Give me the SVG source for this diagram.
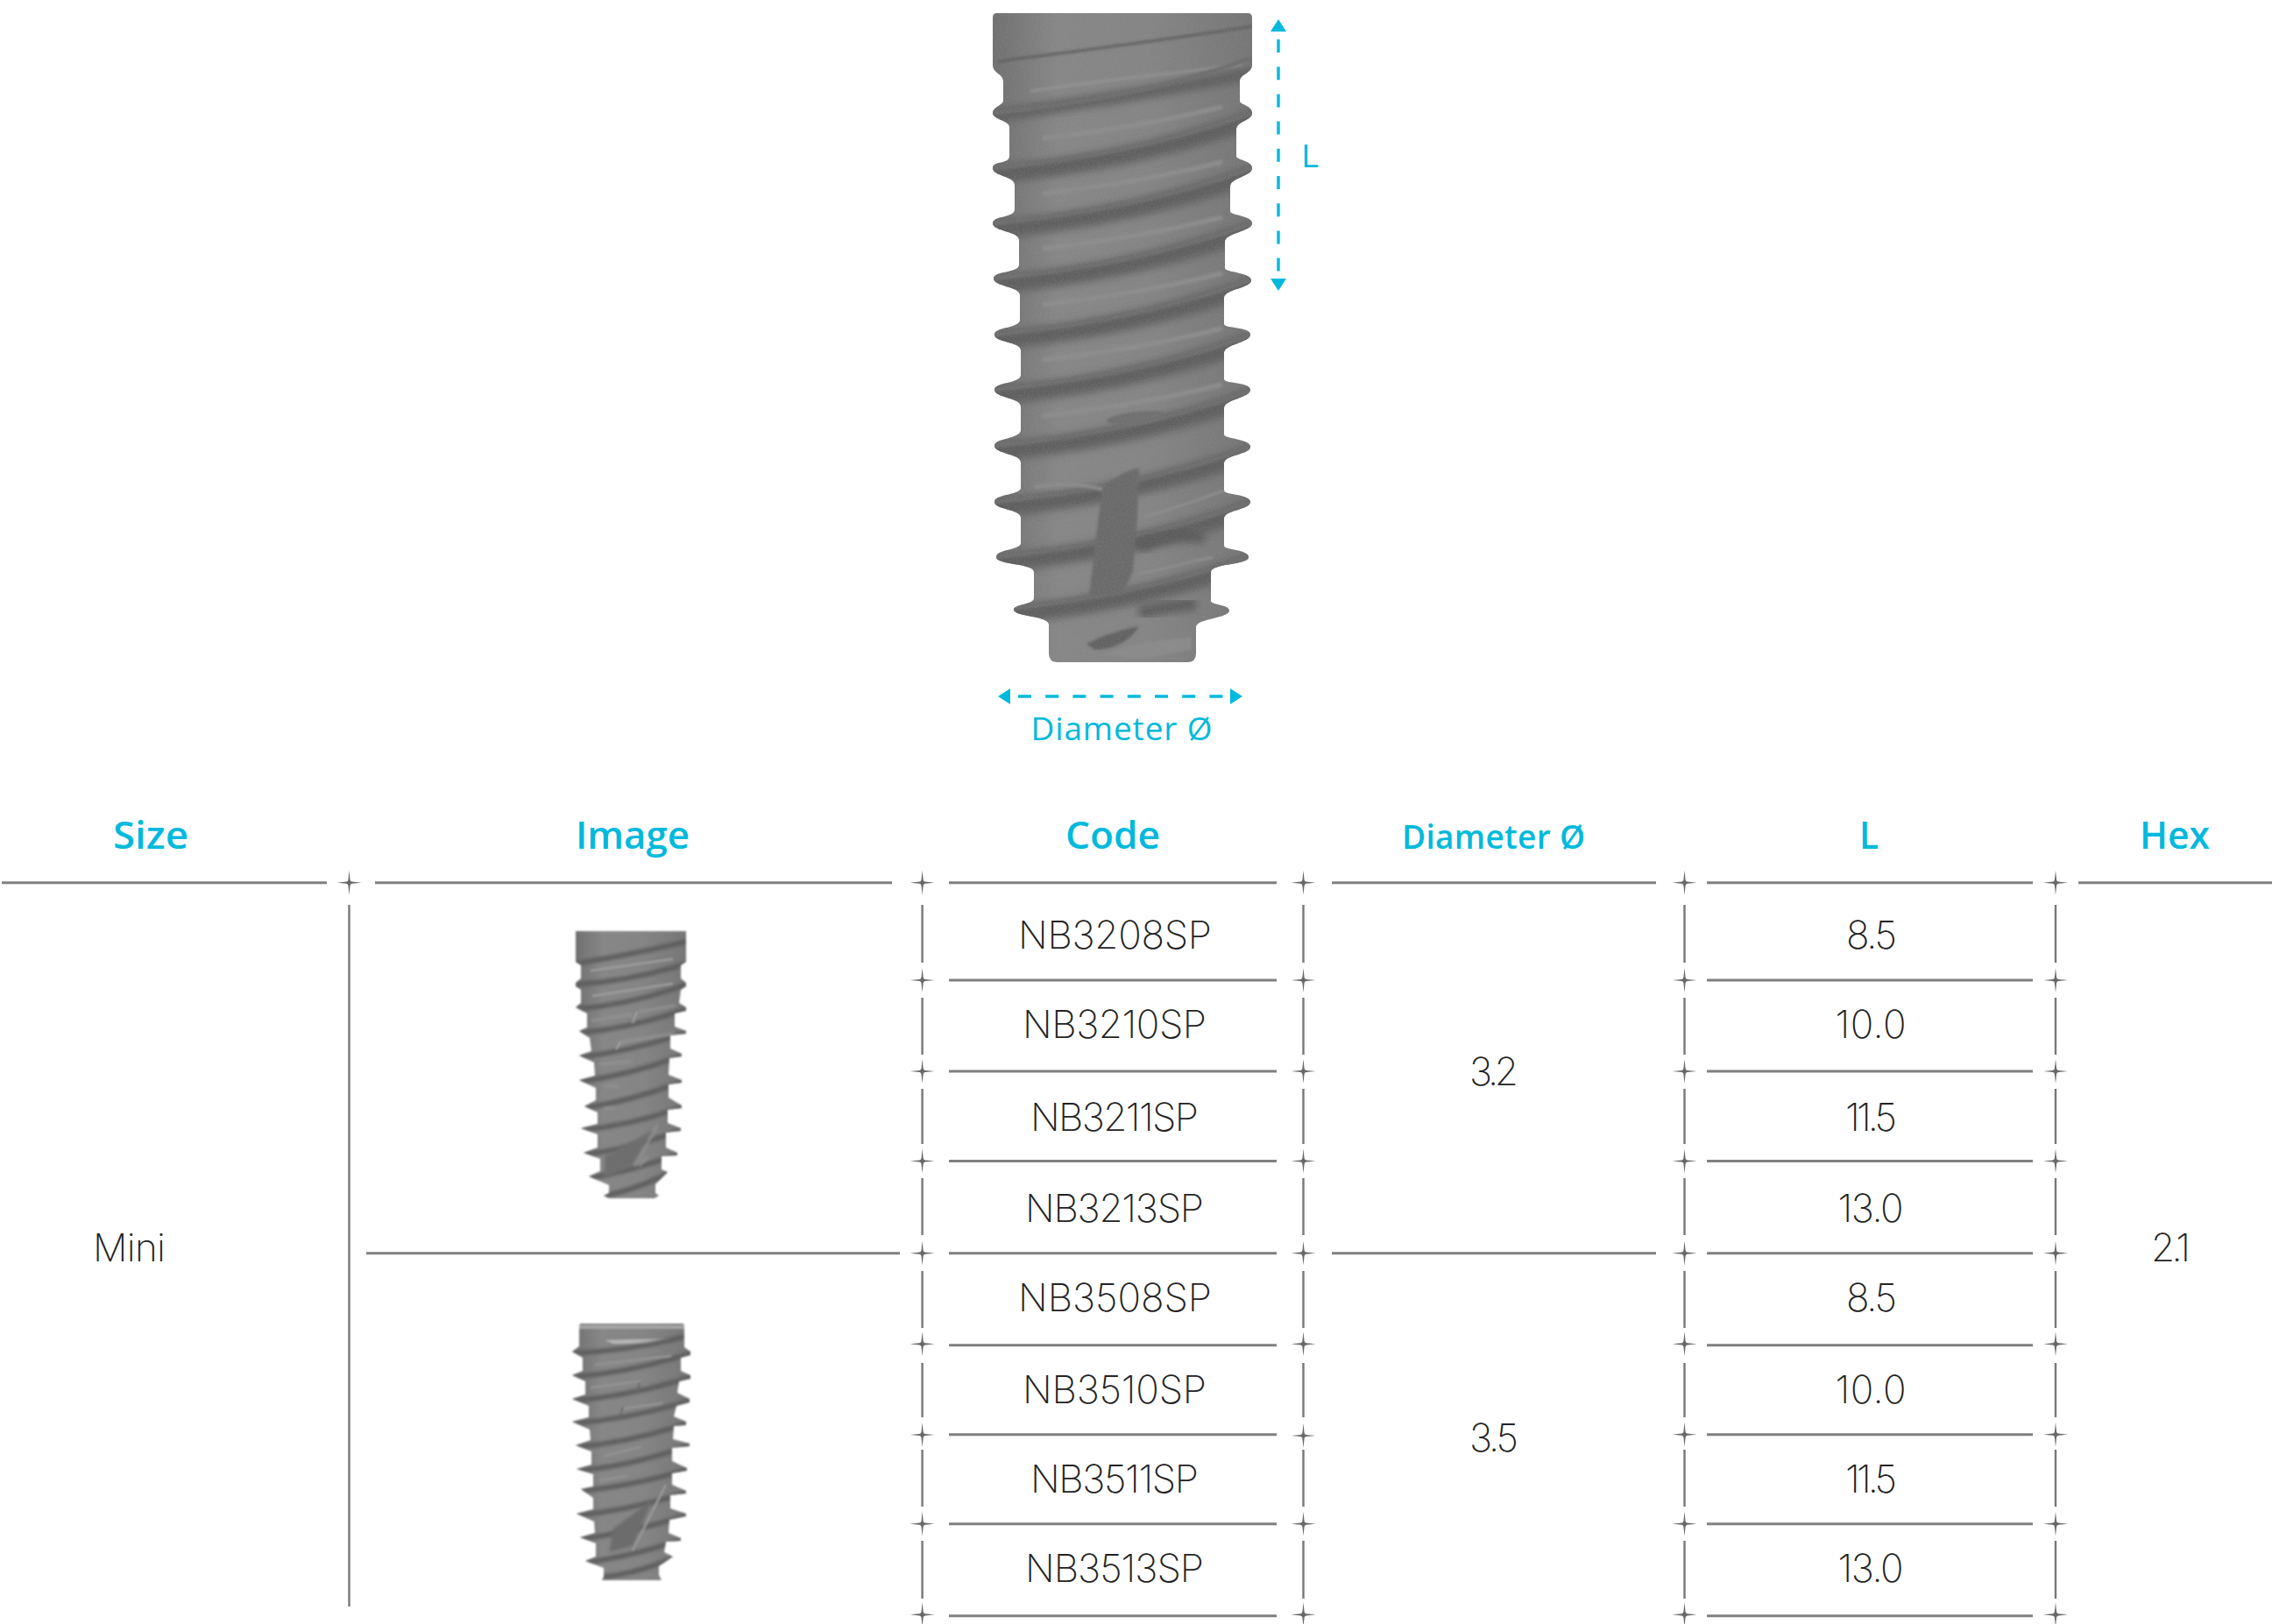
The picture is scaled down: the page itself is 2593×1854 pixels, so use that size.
<svg xmlns="http://www.w3.org/2000/svg" xmlns:xlink="http://www.w3.org/1999/xlink" width="2593" height="1854" viewBox="0 0 2593 1854">
<style>
.h{font-family:"Open Sans","Noto Sans",sans-serif;font-weight:550;fill:#00b9dd;text-anchor:middle}
.a{font-family:"Open Sans","Noto Sans",sans-serif;font-weight:400;fill:#00b9dd;text-anchor:middle}
.c{font-family:"Inter","Lato","Liberation Sans",sans-serif;font-weight:200;fill:#222;font-size:44px;text-anchor:middle}
.rl{stroke:#808080;stroke-width:3;fill:none}
.vl{stroke:#777;stroke-width:2.4;fill:none}
.ar{stroke:#00b9dd;stroke-width:3.4;fill:none;stroke-dasharray:15 16.2;stroke-dashoffset:22.2}
.st{fill:#696969}
.dk{fill:none;stroke:#5e5e5e;stroke-linecap:round}
.lt{fill:none;stroke:#929292;stroke-linecap:round}
</style>
<defs>
<path id="s" d="M0-14L1.1-3.2Q1.4-1.4 3.2-1.1L14 0L3.2 1.1Q1.4 1.4 1.1 3.2L0 14L-1.1 3.2Q-1.4 1.4-3.2 1.1L-14 0L-3.2-1.1Q-1.4-1.4-1.1-3.2Z"/>
<marker id="tri" viewBox="0 0 14 18" refX="0" refY="9" markerUnits="userSpaceOnUse" markerWidth="14" markerHeight="18" orient="auto-start-reverse"><path d="M0 0L14 9L0 18Z" fill="#00b9dd"/></marker>
<linearGradient id="bg" x1="0" x2="1" y1="0" y2="0"><stop offset="0" stop-color="#707070"/><stop offset=".25" stop-color="#878787"/><stop offset=".6" stop-color="#858585"/><stop offset="1" stop-color="#767676"/></linearGradient>
<filter id="b6" x="-10%" y="-50%" width="120%" height="200%"><feGaussianBlur stdDeviation="5"/></filter>
<filter id="b2" x="-10%" y="-50%" width="120%" height="200%"><feGaussianBlur stdDeviation="1.6"/></filter>
<filter id="b1" x="-10%" y="-10%" width="120%" height="120%"><feGaussianBlur stdDeviation="0.9"/></filter>
<filter id="gr" x="0" y="0" width="100%" height="100%"><feTurbulence type="fractalNoise" baseFrequency="0.55" numOctaves="2" seed="4"/><feColorMatrix values="0 0 0 0 0.35 0 0 0 0 0.35 0 0 0 0 0.35 1.1 0 0 0 -0.42"/></filter>
<path id="big" d="M1133 20Q1133 15 1138 15H1424Q1429 15 1429 20V74C1429 84 1415 84 1415 93V115C1415 120 1429 120 1429 129C1429 138 1411 138 1411 148V178C1411 183 1429 183 1429 192C1429 201 1404 203 1404 213V241C1404 246 1429 246 1429 255C1429 264 1398 266 1398 276V306C1398 311 1428 311 1428 320C1428 329 1397 330 1397 340V370C1397 375 1427 373 1427 382C1427 391 1397 393 1397 403V433C1397 438 1427 436 1427 445C1427 454 1397 456 1397 466V496C1397 501 1427 501 1427 510C1427 519 1397 519 1397 529V560C1397 565 1427 564 1427 573C1427 582 1397 582 1397 592V623C1397 628 1425 627 1425 636C1425 645 1382 643 1382 653V686C1382 691 1403 690 1403 697C1403 706 1365 706 1365 716V746Q1365 756 1355 756H1207Q1197 756 1197 746V713C1197 703 1157 704 1157 696C1157 690 1180 690 1180 683V653C1180 643 1137 645 1137 636C1137 627 1165 628 1165 620V591C1165 581 1135 582 1135 573C1135 564 1165 565 1165 557V528C1165 518 1135 518 1135 509C1135 500 1165 501 1165 491V464C1165 454 1135 454 1135 445C1135 436 1165 438 1165 428V400C1165 390 1135 391 1135 382C1135 373 1164 375 1164 365V337C1164 327 1134 327 1134 318C1134 309 1163 312 1163 302V274C1163 264 1133 264 1133 255C1133 246 1158 249 1158 239V211C1158 201 1133 201 1133 192C1133 183 1152 188 1152 178V145C1152 138 1133 136 1133 129C1133 122 1145 120 1145 115V93C1145 84 1133 84 1133 74Z"/>
<path id="sm1" d="M657 1063H783V1098L777 1102V1117L783 1122V1126L777 1130L775 1145L783 1150V1154L770 1157V1172L783 1177V1180L765 1182V1197L778 1203V1206L764 1208L763 1227L778 1233V1236L763 1238V1253L778 1262V1265L762 1267V1282L777 1288V1291L760 1293V1310L773 1316V1319L755 1320V1335L762 1338L748 1352V1362L752 1365L747 1368H695L689 1365L695 1362V1353L672 1343L685 1337V1323L666 1316L682 1310V1295L663 1288L682 1283V1270L667 1263L680 1256V1242L661 1233L679 1228L678 1213L661 1205L675 1200L673 1185L661 1177L670 1173V1157L657 1150L663 1145V1130L657 1126V1122L663 1117V1102L657 1098Z"/>
<path id="sm2" d="M661 1514Q661 1511 664 1511H778Q781 1511 781 1514V1538L788 1543V1547L777 1550V1565L788 1570V1574L775 1577L773 1590L787 1597V1601L772 1605L769 1617L783 1623V1627L769 1628L768 1643L787 1648V1651L767 1653V1668L784 1676V1679L767 1682V1695L783 1702V1705L765 1707V1722L783 1728V1731L764 1735L763 1750L777 1756V1759L760 1760L758 1772L768 1777L752 1788V1798L755 1804H687L689 1800V1790L668 1782L680 1777V1762L662 1755L679 1750L678 1737L658 1728L677 1723V1710L663 1700L677 1697V1683L658 1677L675 1672V1657L657 1650L674 1644L673 1632L653 1623L672 1618V1605L653 1597L668 1592V1577L653 1570L665 1565V1550L653 1543L661 1537Z"/>
<clipPath id="cb"><use href="#big"/></clipPath>
<clipPath id="c1"><use href="#sm1"/></clipPath>
<clipPath id="c2"><use href="#sm2"/></clipPath>
<path id="bd" d="M1125 200C1230 192 1330 172 1437 134" stroke-width="20"/>
<path id="bc" d="M1133 192C1230 182 1330 165 1429 129" stroke-width="5"/>
<path id="bh" d="M1190 158C1260 150 1330 138 1395 122" stroke-width="5"/>
</defs>

<g id="implant-large">
<use href="#big" fill="url(#bg)"/>
<g clip-path="url(#cb)">
<path class="dk" filter="url(#b2)" d="M1140 70C1230 58 1330 46 1429 30" stroke-width="3"/>
<path class="lt" filter="url(#b2)" d="M1177 104C1250 92 1340 84 1417 74" stroke-width="3"/>
<path class="dk" filter="url(#b6)" d="M1125 134C1230 118 1330 104 1437 82" stroke-width="14"/>
<g class="dk" filter="url(#b6)">
<use href="#bd"/><use href="#bd" transform="translate(0 63)"/><use href="#bd" transform="translate(0 126)"/><use href="#bd" transform="translate(0 190)"/><use href="#bd" transform="translate(0 253)"/><use href="#bd" transform="translate(0 317)"/><use href="#bd" transform="translate(0 381)"/><use href="#bd" transform="translate(0 444)"/><use href="#bd" transform="translate(4 504)"/>
</g>
<g fill="none" stroke="#6e6e6e" filter="url(#b1)">
<use href="#bc" transform="translate(0 -63)"/><use href="#bc"/><use href="#bc" transform="translate(0 63)"/><use href="#bc" transform="translate(0 126)"/><use href="#bc" transform="translate(0 190)"/><use href="#bc" transform="translate(0 253)"/><use href="#bc" transform="translate(0 317)"/><use href="#bc" transform="translate(0 381)"/><use href="#bc" transform="translate(0 444)"/><use href="#bc" transform="translate(4 504)"/>
</g>
<g fill="none" stroke="#8d8d8d" filter="url(#b2)">
<use href="#bh"/><use href="#bh" transform="translate(0 63)"/><use href="#bh" transform="translate(0 126)"/><use href="#bh" transform="translate(0 190)"/><use href="#bh" transform="translate(0 253)"/><use href="#bh" transform="translate(0 317)"/>
</g>
<ellipse cx="1297" cy="477" rx="34" ry="7" fill="#707070" transform="rotate(-6 1297 477)" filter="url(#b1)"/>
<path d="M1180 556C1210 552 1240 552 1262 560" stroke="#8c8c8c" stroke-width="4" fill="none" filter="url(#b2)"/>
<path d="M1258 556Q1280 538 1300 534L1298 590L1293 653L1280 680H1243L1250 620Z" fill="#6b6b6b" filter="url(#b2)"/>
<path d="M1306 590C1340 580 1370 570 1397 560" stroke="#8c8c8c" stroke-width="3" fill="none" filter="url(#b1)"/>
<path d="M1300 655C1330 650 1360 640 1385 636" stroke="#8c8c8c" stroke-width="3" fill="none" filter="url(#b1)"/>
<path d="M1300 625Q1340 605 1375 615" stroke="#5a5a5a" stroke-width="12" fill="none" filter="url(#b6)"/>
<path d="M1300 700Q1340 690 1365 690" stroke="#5a5a5a" stroke-width="14" fill="none" filter="url(#b6)"/>
<path d="M1240 735Q1270 720 1300 715Q1285 740 1250 742Z" fill="#626262" filter="url(#b2)"/>
<path d="M1260 747Q1310 730 1360 728V742L1300 752Z" fill="#8b8b8b" filter="url(#b2)"/>
</g>
<g clip-path="url(#cb)"><rect x="1133" y="15" width="296" height="741" filter="url(#gr)" opacity=".4"/></g>
</g>

<g id="implant-small-1" filter="url(#b1)">
<use href="#sm1" fill="url(#bg)"/>
<g clip-path="url(#c1)">
<g class="dk" stroke-width="6" filter="url(#b2)">
<path d="M657 1100Q720 1090 783 1075"/><path d="M657 1124Q720 1120 783 1100"/><path d="M657 1152Q720 1147 783 1124"/><path d="M661 1179Q720 1174 783 1152"/><path d="M661 1207Q720 1200 783 1179"/><path d="M661 1235Q720 1227 778 1205"/><path d="M667 1265Q720 1257 778 1235"/><path d="M663 1290Q720 1285 778 1264"/><path d="M666 1318Q720 1312 777 1290"/><path d="M672 1345Q720 1337 773 1318"/><path d="M689 1365Q720 1360 762 1340"/>
</g>
<g class="lt" stroke-width="2.5" style="stroke:#9c9c9c">
<path d="M675 1108L767 1095"/><path d="M677 1137L767 1123"/>
</g>
<g class="lt" stroke-width="3" filter="url(#b1)">
<path d="M676 1165L720 1158"/><path d="M730 1155L770 1148"/><path d="M708 1190L768 1180"/><path d="M685 1215L720 1212"/><path d="M690 1240L705 1240"/><path d="M690 1265L700 1265"/><path d="M750 1285L725 1330"/><path d="M730 1330L738 1322"/>
</g>
<path d="M727 1155L722 1168M708 1190L703 1198" stroke="#a8a8a8" stroke-width="1.6"/>
<path d="M745 1290L722 1330L690 1345V1320Z" fill="#6e6e6e" filter="url(#b2)"/>
</g>
</g>

<g id="implant-small-2" filter="url(#b1)">
<use href="#sm2" fill="url(#bg)"/>
<g clip-path="url(#c2)">
<path d="M661 1513H781V1517H661Z" fill="#a5a5a5"/>
<path d="M690 1530L770 1528L740 1534H700Z" fill="#b5b5b5"/>
<g class="dk" stroke-width="6" filter="url(#b2)">
<path d="M653 1545Q720 1542 781 1526"/><path d="M653 1572Q720 1567 788 1545"/><path d="M653 1599Q720 1594 788 1572"/><path d="M653 1625Q720 1620 787 1599"/><path d="M657 1652Q720 1647 783 1625"/><path d="M658 1679Q720 1674 787 1650"/><path d="M663 1702Q720 1697 784 1678"/><path d="M658 1730Q720 1724 783 1704"/><path d="M662 1757Q720 1750 783 1730"/><path d="M668 1784Q720 1777 777 1758"/><path d="M689 1800Q720 1798 768 1779"/>
</g>
<g class="lt" stroke-width="3">
<path d="M680 1558L765 1548"/><path d="M675 1584L730 1577"/><path d="M712 1608L755 1602"/><path d="M690 1662L730 1652"/><path d="M685 1690L715 1685"/>
</g>
<path d="M760 1695L722 1770" stroke="#9a9a9a" stroke-width="2.5"/>
<path d="M730 1578L727 1590M711 1606L708 1616" stroke="#6a6a6a" stroke-width="2"/>
<path d="M745 1712L722 1765L695 1772L700 1745Z" fill="#6c6c6c" filter="url(#b2)"/>
</g>
</g>

<g id="connectors">
<path class="ar" marker-start="url(#tri)" marker-end="url(#tri)" d="M1459 36V318"/>
<path class="ar" marker-start="url(#tri)" marker-end="url(#tri)" d="M1153 795H1404"/>
</g>

<g id="table-lines">
<path class="rl" d="M2 1007.7H373M428 1007.7H1018M1083 1007.7H1457M1520 1007.7H1890M1948 1007.7H2320M2372 1007.7H2593"/>
<path class="rl" d="M1083 1119H1457M1948 1119H2320M1083 1223H1457M1948 1223H2320M1083 1325.5H1457M1948 1325.5H2320"/>
<path class="rl" d="M418 1430.7H1027M1083 1430.7H1457M1520 1430.7H1890M1948 1430.7H2320"/>
<path class="rl" d="M1083 1535.7H1457M1948 1535.7H2320M1083 1637.7H1457M1948 1637.7H2320M1083 1739.7H1457M1948 1739.7H2320M1083 1844.7H1457M1948 1844.7H2320"/>
<path class="vl" d="M398.5 1033V1834"/>
<path class="vl" d="M1052.6 1033V1099M1052.6 1139V1204M1052.6 1243V1306M1052.6 1345V1410M1052.6 1451V1516M1052.6 1556V1618M1052.6 1655V1720M1052.6 1759V1825"/>
<path class="vl" d="M1487.5 1033V1099M1487.5 1139V1204M1487.5 1243V1306M1487.5 1345V1410M1487.5 1451V1516M1487.5 1556V1618M1487.5 1655V1720M1487.5 1759V1825"/>
<path class="vl" d="M1922.5 1033V1099M1922.5 1139V1204M1922.5 1243V1306M1922.5 1345V1410M1922.5 1451V1516M1922.5 1556V1618M1922.5 1655V1720M1922.5 1759V1825"/>
<path class="vl" d="M2346 1033V1099M2346 1139V1204M2346 1243V1306M2346 1345V1410M2346 1451V1516M2346 1556V1618M2346 1655V1720M2346 1759V1825"/>
<g class="st">
<use href="#s" x="398.5" y="1007.7"/>
<use href="#s" x="1052.6" y="1007.7"/><use href="#s" x="1052.6" y="1119"/><use href="#s" x="1052.6" y="1223"/><use href="#s" x="1052.6" y="1325.5"/><use href="#s" x="1052.6" y="1430.7"/><use href="#s" x="1052.6" y="1534.3"/><use href="#s" x="1052.6" y="1638"/><use href="#s" x="1052.6" y="1739.7"/><use href="#s" x="1052.6" y="1843.3"/>
<use href="#s" x="1487.5" y="1007.7"/><use href="#s" x="1487.5" y="1119"/><use href="#s" x="1487.5" y="1223"/><use href="#s" x="1487.5" y="1325.5"/><use href="#s" x="1487.5" y="1430.7"/><use href="#s" x="1487.5" y="1534.3"/><use href="#s" x="1487.5" y="1639"/><use href="#s" x="1487.5" y="1739.7"/><use href="#s" x="1487.5" y="1843.3"/>
<use href="#s" x="1922.5" y="1007.7"/><use href="#s" x="1922.5" y="1119"/><use href="#s" x="1922.5" y="1223"/><use href="#s" x="1922.5" y="1325.5"/><use href="#s" x="1922.5" y="1430.7"/><use href="#s" x="1922.5" y="1534.3"/><use href="#s" x="1922.5" y="1637.7"/><use href="#s" x="1922.5" y="1739.7"/><use href="#s" x="1922.5" y="1843.3"/>
<use href="#s" x="2346" y="1007.7"/><use href="#s" x="2346" y="1119"/><use href="#s" x="2346" y="1223"/><use href="#s" x="2346" y="1325.5"/><use href="#s" x="2346" y="1430.7"/><use href="#s" x="2346" y="1534.3"/><use href="#s" x="2346" y="1637.7"/><use href="#s" x="2346" y="1739.7"/><use href="#s" x="2346" y="1843.3"/>
</g>
</g>

<g id="annotations">
<text class="a" x="1495" y="191" font-size="36" textLength="20" lengthAdjust="spacingAndGlyphs">L</text>
<text class="a" x="1280" y="845" font-size="37" textLength="207" lengthAdjust="spacing">Diameter Ø</text>
</g>

<g id="headers">
<text class="h" x="172" y="969" font-size="44" textLength="86" lengthAdjust="spacingAndGlyphs">Size</text>
<text class="h" x="722" y="969" font-size="44" textLength="130" lengthAdjust="spacingAndGlyphs">Image</text>
<text class="h" x="1270" y="969" font-size="44" textLength="108" lengthAdjust="spacingAndGlyphs">Code</text>
<text class="h" x="1704.5" y="969" font-size="37" textLength="209" lengthAdjust="spacing">Diameter Ø</text>
<text class="h" x="2133" y="969" font-size="44" textLength="22" lengthAdjust="spacingAndGlyphs">L</text>
<text class="h" x="2482" y="969" font-size="44" textLength="80" lengthAdjust="spacingAndGlyphs">Hex</text>
</g>

<g id="cells">
<text class="c" x="147.5" y="1440" textLength="83" lengthAdjust="spacing">Mini</text>
<text class="c" x="2477.5" y="1440" textLength="45" lengthAdjust="spacing">2.1</text>
<text class="c" x="1705" y="1239" textLength="56" lengthAdjust="spacing">3.2</text>
<text class="c" x="1705" y="1657" textLength="56" lengthAdjust="spacing">3.5</text>
<text class="c" x="1272.5" y="1083" textLength="221" lengthAdjust="spacing">NB3208SP</text>
<text class="c" x="1272" y="1185" textLength="210" lengthAdjust="spacing">NB3210SP</text>
<text class="c" x="1272" y="1291" textLength="192" lengthAdjust="spacing">NB3211SP</text>
<text class="c" x="1272" y="1395" textLength="204" lengthAdjust="spacing">NB3213SP</text>
<text class="c" x="1272.5" y="1497" textLength="221" lengthAdjust="spacing">NB3508SP</text>
<text class="c" x="1272" y="1602" textLength="210" lengthAdjust="spacing">NB3510SP</text>
<text class="c" x="1272" y="1704" textLength="192" lengthAdjust="spacing">NB3511SP</text>
<text class="c" x="1272" y="1806" textLength="204" lengthAdjust="spacing">NB3513SP</text>
<text class="c" x="2136" y="1083" textLength="58" lengthAdjust="spacing">8.5</text>
<text class="c" x="2135" y="1185" textLength="81" lengthAdjust="spacing">10.0</text>
<text class="c" x="2135.5" y="1291" textLength="59" lengthAdjust="spacing">11.5</text>
<text class="c" x="2135" y="1395" textLength="75" lengthAdjust="spacing">13.0</text>
<text class="c" x="2136" y="1497" textLength="58" lengthAdjust="spacing">8.5</text>
<text class="c" x="2135" y="1602" textLength="81" lengthAdjust="spacing">10.0</text>
<text class="c" x="2135.5" y="1704" textLength="59" lengthAdjust="spacing">11.5</text>
<text class="c" x="2135" y="1806" textLength="75" lengthAdjust="spacing">13.0</text>
</g>
</svg>
